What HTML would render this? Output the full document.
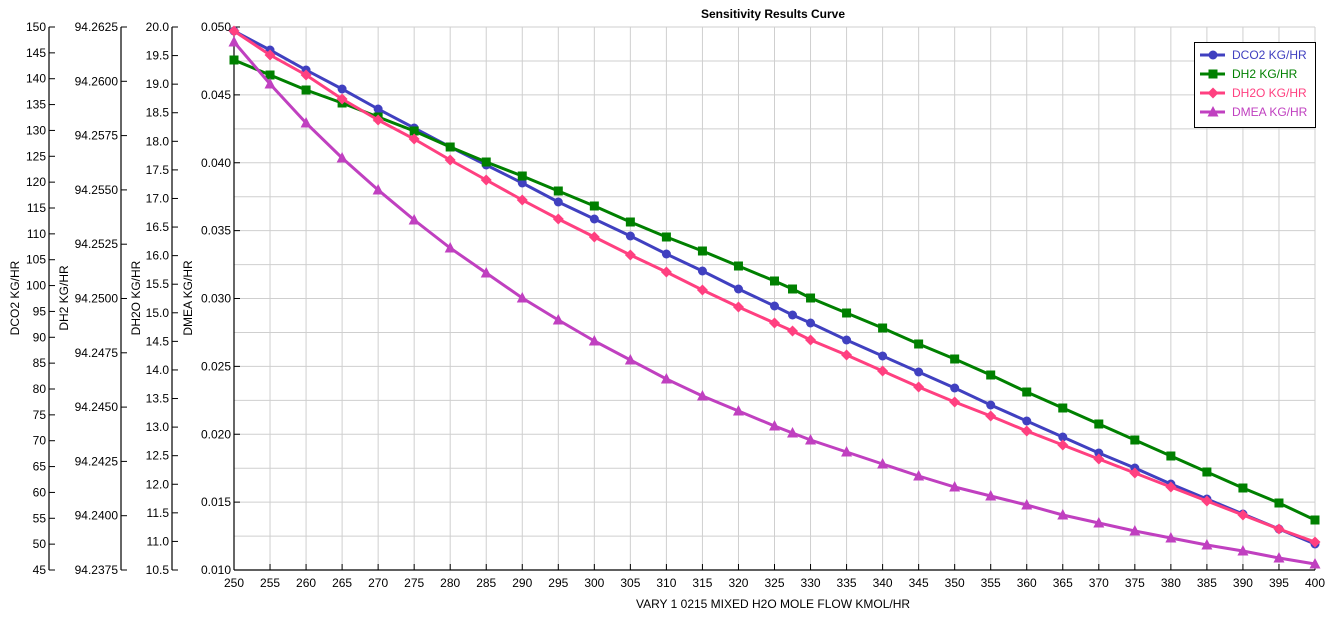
<!DOCTYPE html>
<html><head><meta charset="utf-8"><style>
body{margin:0;background:#fff;width:1334px;height:619px;overflow:hidden}
svg{display:block;font-family:"Liberation Sans",sans-serif}
</style></head><body>
<svg id="s" width="1334" height="619" xmlns="http://www.w3.org/2000/svg"></svg>
<script>
const s=document.getElementById('s');let h='';
const X0=234,X1=1315,Y0=27,Y1=570;
const xp=v=>X0+(v-250)/150*(X1-X0);
for(let v=255;v<=400;v+=5)h+=`<line x1="${xp(v)}" y1="${Y0}" x2="${xp(v)}" y2="${Y1}" stroke="#cfcfcf"/>`;
for(let i=1;i<16;i++){let y=Y0+i*(Y1-Y0)/16;h+=`<line x1="${X0}" y1="${y}" x2="${X1}" y2="${y}" stroke="#cfcfcf"/>`;}
h+=`<line x1="${X0}" y1="${Y0}" x2="${X1}" y2="${Y0}" stroke="#cfcfcf"/>`;
h+=`<line x1="${X0}" y1="${Y1}" x2="${X1}" y2="${Y1}" stroke="#000" stroke-width="1.2"/>`;
for(let v=250;v<=400;v+=5){h+=`<line x1="${xp(v)}" y1="${Y1}" x2="${xp(v)}" y2="${Y1-6}" stroke="#000"/><text x="${xp(v)}" y="${Y1+17}" font-size="12" text-anchor="middle">${v}</text>`;}
h+=`<text x="773" y="608" font-size="12" text-anchor="middle">VARY   1 0215 MIXED H2O MOLE FLOW KMOL/HR</text>`;
h+=`<text x="773" y="18" font-size="12" font-weight="bold" text-anchor="middle">Sensitivity Results Curve</text>`;
function axis(ax,n,lab,title,tx){h+=`<line x1="${ax}" y1="${Y0}" x2="${ax}" y2="${Y1}" stroke="#000" stroke-width="1.2"/>`;
for(let i=0;i<=n;i++){let y=Y0+i*(Y1-Y0)/n;h+=`<line x1="${ax}" y1="${y}" x2="${ax+6}" y2="${y}" stroke="#000"/><text x="${ax-3}" y="${y+4}" font-size="12" text-anchor="end">${lab(i)}</text>`;}
h+=`<text transform="translate(${tx},298) rotate(-90)" font-size="12" text-anchor="middle">${title}</text>`;}
axis(49,21,i=>150-5*i,'DCO2 KG/HR',19);
axis(121,10,i=>(94.2625-0.0025*i).toFixed(4),'DH2 KG/HR',68);
axis(172,19,i=>(20-0.5*i).toFixed(1),'DH2O KG/HR',140);
axis(X0,8,i=>(0.05-0.005*i).toFixed(3),'DMEA KG/HR',192);
const xs=[250,255,260,265,270,275,280,285,290,295,300,305,310,315,320,325,327.5,330,335,340,345,350,355,360,365,370,375,380,385,390,395,400];
const S=[
['#4040c0','circle',[31,50,70,89,109,128,147,165,183,202,219,236,254,271,289,306,315,323,340,356,372,388,405,421,437,453,468,484,499,514,529,544]],
['#008000','square',[60,75,90,103,117,131,147,162,176,191,206,222,237,251,266,281,289,298,313,328,344,359,375,392,408,424,440,456,472,488,503,520]],
['#ff4080','diamond',[31,55,75,99,120,139,160,180,200,219,237,255,272,290,307,323,331,340,355,371,387,402,416,431,445,459,473,487,501,515,529,542]],
['#c040c0','tri',[42,84,123,158,190,220,248,273,298,320,341,360,379,396,411,426,433,440,452,464,476,487,496,505,515,523,531,538,545,551,558,564]]];
function mk(c,t,x,y){if(t=='circle')return `<circle cx="${x}" cy="${y}" r="4.5" fill="${c}"/>`;
if(t=='square')return `<rect x="${x-4.5}" y="${y-4.5}" width="9" height="9" fill="${c}"/>`;
if(t=='diamond')return `<polygon points="${x},${y-5.5} ${x+5.5},${y} ${x},${y+5.5} ${x-5.5},${y}" fill="${c}"/>`;
return `<polygon points="${x},${y-6} ${x+5.5},${y+4.5} ${x-5.5},${y+4.5}" fill="${c}"/>`;}
for(const [c,t,ys] of S){h+=`<polyline fill="none" stroke="${c}" stroke-width="3" points="${xs.map((v,i)=>xp(v)+','+ys[i]).join(' ')}"/>`;
xs.forEach((v,i)=>h+=mk(c,t,xp(v),ys[i]));}
h+=`<rect x="1194.5" y="42.5" width="121" height="85" fill="#fff" stroke="#000"/>`;
const names=['DCO2 KG/HR','DH2 KG/HR','DH2O KG/HR','DMEA KG/HR'];
S.forEach(([c,t],i)=>{let y=55+i*19;h+=`<line x1="1200" y1="${y}" x2="1225" y2="${y}" stroke="${c}" stroke-width="3"/>`+mk(c,t,1213,y)+`<text x="1232" y="${y+4}" font-size="12" fill="${c}">${names[i]}</text>`;});
s.innerHTML=h;
</script>
</body></html>
